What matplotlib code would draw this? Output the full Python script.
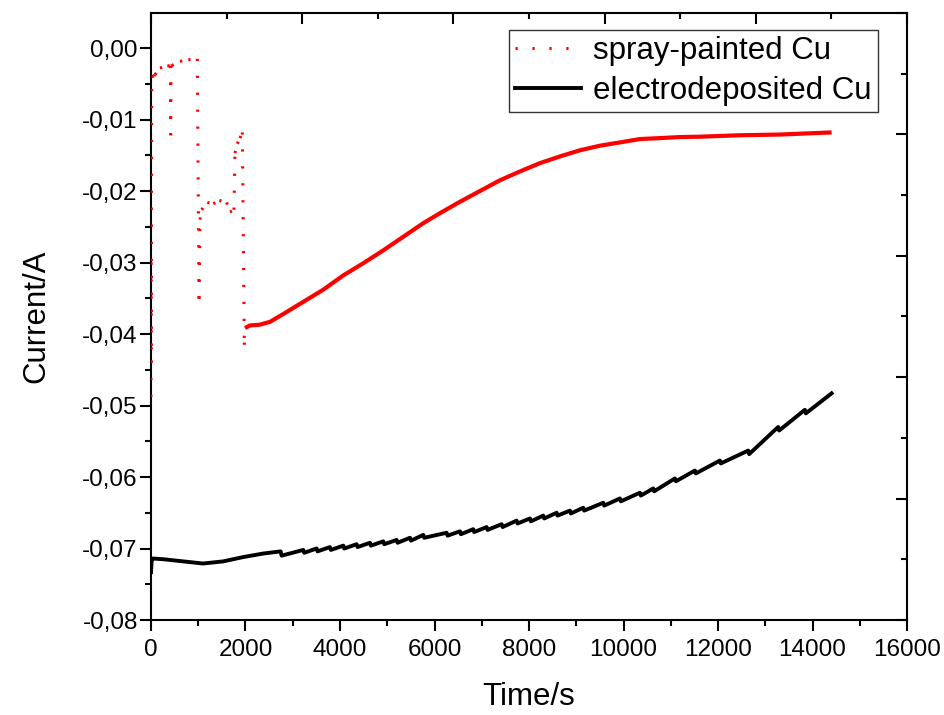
import numpy as np
import matplotlib
matplotlib.use("Agg")
import matplotlib.pyplot as plt
from matplotlib.collections import LineCollection
from matplotlib.lines import Line2D
from matplotlib.ticker import MultipleLocator, FuncFormatter

plt.rcParams['font.family'] = ['Liberation Sans', 'DejaVu Sans']
plt.rcParams['lines.scale_dashes'] = False

# ---------------- data ----------------
spray_label = "spray-painted Cu"
electro_label = "electrodeposited Cu"

spray_time = [0, 4, 7, 10, 14, 63, 85, 190, 346, 410, 416, 425, 437, 614, 790, 980,
              1016, 1037, 1072, 1192, 1319, 1446, 1601, 1672, 1756, 1777, 1827, 1883,
              1933, 1975, 1989, 2095, 2300, 2518, 2800, 3223, 3646, 4070, 4493, 4916,
              5339, 5762, 6115, 6539, 6962, 7385, 7808, 8232, 8655, 9079, 9502, 9925,
              10347, 10772, 11194, 11618, 12465, 13312, 14404]
spray_current = [-0.0488, -0.0300, -0.0440, -0.0250, -0.0040, -0.0039, -0.00373, -0.0028,
                 -0.00248, -0.0025, -0.0122, -0.0025, -0.00245, -0.00187, -0.00164, -0.0015,
                 -0.0351, -0.0240, -0.02262, -0.0216, -0.02178, -0.02131, -0.0216, -0.02294,
                 -0.02262, -0.01469, -0.01338, -0.01259, -0.0118, -0.0415, -0.03916, -0.0388,
                 -0.0387, -0.0383, -0.0372, -0.0355, -0.0338, -0.0318, -0.0301, -0.0283,
                 -0.0264, -0.0245, -0.0231, -0.0215, -0.0200, -0.0185, -0.01726, -0.0161,
                 -0.01516, -0.0143, -0.01366, -0.0132, -0.01273, -0.0126, -0.01245, -0.0124,
                 -0.0122, -0.0121, -0.0118]

electro_time = [0, 15, 40, 260, 680, 1100, 1530, 1950, 2380,
                2744, 2764, 3223, 3243, 3505, 3525, 3787, 3807, 4070, 4090, 4352, 4372,
                4634, 4654, 4916, 4936, 5199, 5219, 5481, 5501, 5763, 5783, 6257, 6277,
                6539, 6559, 6820, 6840, 7103, 7123, 7421, 7441, 7738, 7758, 8020, 8040,
                8302, 8322, 8585, 8605, 8866, 8886, 9148, 9168, 9571, 9591, 9924, 9944,
                10347, 10367, 10629, 10649, 11088, 11108, 11511, 11531, 12040, 12060,
                12639, 12659, 13274, 13294, 13839, 13859, 14404]
electro_current = [-0.0733, -0.0716, -0.0714, -0.0715, -0.0718, -0.0721, -0.0718, -0.0712, -0.0707,
                   -0.0704, -0.0710, -0.0702, -0.0706, -0.0700, -0.0704, -0.0698, -0.0702,
                   -0.0696, -0.0700, -0.0694, -0.0698, -0.0692, -0.0696, -0.0690, -0.0694,
                   -0.0688, -0.0692, -0.0685, -0.0689, -0.0681, -0.0685, -0.0678, -0.0682,
                   -0.0676, -0.0680, -0.0673, -0.0677, -0.0670, -0.0674, -0.0666, -0.0670,
                   -0.0661, -0.0665, -0.0658, -0.0662, -0.0654, -0.0658, -0.0650, -0.0654,
                   -0.0647, -0.0651, -0.0643, -0.0647, -0.0636, -0.0640, -0.0630, -0.0634,
                   -0.0622, -0.0626, -0.0616, -0.0620, -0.0602, -0.0606, -0.0591, -0.0595,
                   -0.0577, -0.0581, -0.0563, -0.0568, -0.0530, -0.0535, -0.0506, -0.0511,
                   -0.0483]

x_ticks = [0, 2000, 4000, 6000, 8000, 10000, 12000, 14000, 16000]
y_ticks = [-0.08, -0.07, -0.06, -0.05, -0.04, -0.03, -0.02, -0.01, 0.00]

# time until which the recording is sparse (segments drawn dotted)
sparse_until = 1990

# ---------------- figure ----------------
fig = plt.figure(figsize=(9.45, 7.15), dpi=100)
pos = [151 / 945, 1 - 620 / 715, (907 - 151) / 945, (620 - 13) / 715]
ax = fig.add_axes(pos)

red = '#ff0000'
dot_style = (0, (1.6, 10.6))

t_r = np.array(spray_time, float)
c_r = np.array(spray_current, float)
pts = np.column_stack([t_r, c_r])
segs = np.stack([pts[:-1], pts[1:]], axis=1)
sparse = t_r[1:] <= sparse_until
lc_dot = LineCollection(segs[sparse], colors=red, linewidths=2.2,
                        linestyles=[dot_style], capstyle='butt', zorder=3)
ax.add_collection(lc_dot)
k = int(np.nonzero(sparse)[0][-1]) + 1   # index of first point of dense part
ax.plot(t_r[k:], c_r[k:], color=red, lw=3.0, solid_capstyle='butt', zorder=3)

ax.plot(electro_time, electro_current, color='black', lw=2.8, zorder=2)

ax.set_xlim(0, 16000)
ax.set_ylim(-0.08, 0.0049)
ax.set_xticks(x_ticks)
ax.set_yticks(y_ticks)
ax.xaxis.set_minor_locator(MultipleLocator(1000))
ax.yaxis.set_minor_locator(MultipleLocator(0.005))
ax.yaxis.set_major_formatter(FuncFormatter(
    lambda v, p: ('%.2f' % v).replace('.', ',').replace('-0,00', '0,00')))
ax.xaxis.set_major_formatter(FuncFormatter(lambda v, p: '%d' % v))

for s in ax.spines.values():
    s.set_linewidth(1.5)
ax.tick_params(which='major', direction='out', length=8, width=1.5, labelsize=17.5,
               top=False, right=False)
ax.tick_params(axis='x', which='major', pad=6)
ax.tick_params(axis='y', which='major', pad=1.5)
ax.tick_params(which='minor', direction='out', length=4, width=1.5, top=False, right=False)

ax.set_xlabel('Time/s', fontsize=22.5, labelpad=15)
ax.set_ylabel('Current/A', fontsize=22.5, labelpad=22)

# mirrored top/right axes (independent tick spacing, inward ticks)
ax2 = fig.add_axes(pos, frameon=False)
ax2.patch.set_visible(False)
ax2.set_xlim(0, 10)
ax2.set_ylim(0, 10)
ax2.xaxis.set_major_locator(MultipleLocator(2))
ax2.xaxis.set_minor_locator(MultipleLocator(1))
ax2.yaxis.set_major_locator(MultipleLocator(2))
ax2.yaxis.set_minor_locator(MultipleLocator(1))
ax2.tick_params(which='both', direction='in', top=True, right=True, bottom=False, left=False,
                labeltop=False, labelright=False, labelbottom=False, labelleft=False, width=1.5)
ax2.tick_params(which='major', length=8)
ax2.tick_params(which='minor', length=4)

handles = [Line2D([], [], color=red, lw=2.2, linestyle=dot_style, dash_capstyle='butt'),
           Line2D([], [], color='black', lw=2.8)]
leg = ax.legend(handles, [spray_label, electro_label], loc='upper right',
                bbox_to_anchor=(0.9616, 0.972), borderaxespad=0, fontsize=22.5,
                frameon=True, fancybox=False, framealpha=1, edgecolor='#333333',
                handlelength=2.1, handletextpad=0.4, labelspacing=0.32, borderpad=0.2)
leg.get_frame().set_linewidth(1.0)

fig.savefig('out.png', dpi=100)
